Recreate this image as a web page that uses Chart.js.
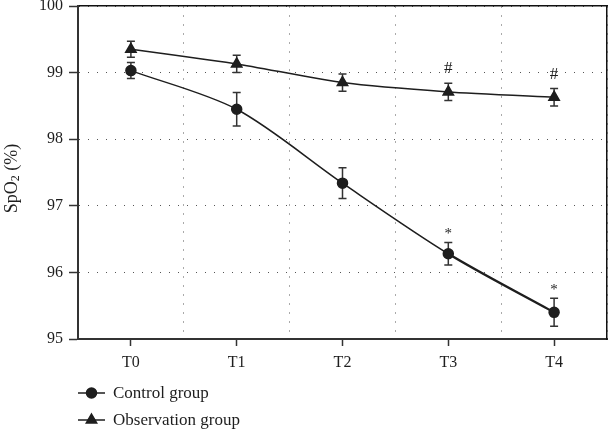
<!DOCTYPE html>
<html>
<head>
<meta charset="utf-8">
<script src="https://cdn.jsdelivr.net/npm/chart.js@4/dist/chart.umd.min.js"></script>
<style>
  html, body { margin: 0; padding: 0; background: #fff; }
  #wrap { width: 608px; height: 429px; }
</style>
</head>
<body>
<div id="wrap"><canvas id="spo2Chart"></canvas></div>
<script>
const timePoints = ['T0', 'T1', 'T2', 'T3', 'T4'];
const controlMean = [99.03, 98.45, 97.34, 96.28, 95.40];
const controlSD = [0.12, 0.25, 0.23, 0.17, 0.21];
const controlMarks = ['', '', '', '*', '*'];
const obsMean = [99.35, 99.13, 98.85, 98.71, 98.63];
const obsSD = [0.12, 0.13, 0.13, 0.13, 0.13];
const obsMarks = ['', '', '', '#', '#'];
const yTicks = [95, 96, 97, 98, 99, 100];

const serif = '"Liberation Serif", "Times New Roman", serif';
const ink = '#1e1e1e';
const dotGrid = '#555';

const errorBars = {
  id: 'errorBars',
  beforeDatasetsDraw(chart) {
    const ctx = chart.ctx;
    const y = chart.scales.y;
    const sds = [controlSD, obsSD];
    ctx.save();
    ctx.strokeStyle = '#333';
    ctx.lineWidth = 1.5;
    chart.data.datasets.forEach((ds, i) => {
      const meta = chart.getDatasetMeta(i);
      meta.data.forEach((pt, j) => {
        const top = y.getPixelForValue(ds.data[j] + sds[i][j]);
        const bot = y.getPixelForValue(ds.data[j] - sds[i][j]);
        ctx.beginPath();
        ctx.moveTo(pt.x, top); ctx.lineTo(pt.x, bot);
        ctx.moveTo(pt.x - 4, top); ctx.lineTo(pt.x + 4, top);
        ctx.moveTo(pt.x - 4, bot); ctx.lineTo(pt.x + 4, bot);
        ctx.stroke();
      });
    });
    ctx.restore();
  },
  afterDraw(chart) {
    const ctx = chart.ctx;
    const y = chart.scales.y;
    const area = chart.chartArea;
    const sets = [[controlMean, controlSD, controlMarks], [obsMean, obsSD, obsMarks]];
    ctx.save();
    ctx.fillStyle = ink;
    ctx.textAlign = 'center';
    ctx.textBaseline = 'bottom';
    sets.forEach(([m, sd, marks], i) => {
      const meta = chart.getDatasetMeta(i);
      marks.forEach((s, j) => {
        if (!s) return;
        const top = y.getPixelForValue(m[j] + sd[j]);
        if (s === '*') {
          ctx.font = '15px ' + serif;
          ctx.fillText(s, meta.data[j].x, top - 1);
        } else {
          ctx.font = '17px ' + serif;
          ctx.fillText(s, meta.data[j].x, top - 6);
        }
      });
    });

    // y title with a real subscript
    ctx.save();
    ctx.translate(12, (area.top + area.bottom) / 2 + 6);
    ctx.rotate(-Math.PI / 2);
    ctx.textBaseline = 'middle';
    ctx.textAlign = 'left';
    const parts = [['SpO', 18, 0], ['2', 12, 4], [' (%)', 18, 0]];
    let w = 0;
    parts.forEach(([t, sz]) => { ctx.font = sz + 'px ' + serif; w += ctx.measureText(t).width; });
    let cx = -w / 2;
    parts.forEach(([t, sz, dy]) => {
      ctx.font = sz + 'px ' + serif;
      ctx.fillText(t, cx, dy);
      cx += ctx.measureText(t).width;
    });
    ctx.restore();

    // legend, one item per row
    const items = [['Control group', 'circle', 5], ['Observation group', 'triangle', 6]];
    const x0 = area.left;
    ctx.font = '17px ' + serif;
    items.forEach(([label, style, r], k) => {
      const cy = area.bottom + 54 + k * 27;
      ctx.strokeStyle = ink;
      ctx.lineWidth = 1.5;
      ctx.beginPath();
      ctx.moveTo(x0, cy); ctx.lineTo(x0 + 27, cy);
      ctx.stroke();
      Chart.helpers.drawPoint(ctx, { pointStyle: style, radius: r, borderWidth: 1 }, x0 + 13.5, cy);
      ctx.fill();
      ctx.textAlign = 'left';
      ctx.textBaseline = 'middle';
      ctx.fillStyle = ink;
      ctx.fillText(label, x0 + 35, cy + 1);
    });
    ctx.restore();
  }
};

new Chart(document.getElementById('spo2Chart').getContext('2d'), {
  type: 'line',
  data: {
    labels: timePoints,
    datasets: [
      {
        label: 'Control group',
        data: controlMean,
        borderColor: ink,
        backgroundColor: ink,
        borderWidth: 1.5,
        pointStyle: 'circle',
        pointRadius: 5,
        tension: 0.3,
        segment: { borderWidth: c => c.p0DataIndex === 3 ? 2.5 : 1.5 }
      },
      {
        label: 'Observation group',
        data: obsMean,
        borderColor: ink,
        backgroundColor: ink,
        borderWidth: 1.5,
        pointStyle: 'triangle',
        pointRadius: 6,
        tension: 0.2
      }
    ]
  },
  options: {
    responsive: true,
    maintainAspectRatio: false,
    animation: false,
    layout: { padding: 0, autoPadding: false },
    plugins: {
      legend: { display: false },
      tooltip: { enabled: false }
    },
    scales: {
      x: {
        type: 'category',
        offset: true,
        grid: { offset: false, drawOnChartArea: false, tickLength: 7, tickColor: '#333', tickWidth: 1.5 },
        border: { color: '#333', width: 2 },
        ticks: { color: ink, font: { family: serif, size: 16 }, padding: 7 },
        afterFit: s => { s.height = 90; s.paddingRight = 0; s.paddingLeft = 0; }
      },
      x2: {
        type: 'category',
        labels: timePoints,
        position: 'top',
        offset: true,
        grid: { offset: true, color: dotGrid, lineWidth: 1, drawTicks: false },
        border: { color: '#111', width: 1.5, dash: [1, 8] },
        ticks: { display: false },
        afterFit: s => { s.height = 6; }
      },
      y: {
        min: 95,
        max: 100,
        afterBuildTicks: s => { s.ticks = yTicks.map(v => ({ value: v })); },
        grid: { color: dotGrid, lineWidth: 1, tickLength: 9, tickBorderDash: [], tickColor: '#333', tickWidth: 1.5 },
        border: { color: '#333', width: 2, dash: [1, 8] },
        ticks: { color: ink, font: { family: serif, size: 16 }, padding: 6 },
        afterFit: s => { s.width = 78; s.paddingTop = 0; s.paddingBottom = 0; }
      },
      y2: {
        position: 'right',
        min: 95,
        max: 100,
        grid: { drawOnChartArea: false, drawTicks: false },
        border: { color: '#111', width: 1.5 },
        ticks: { display: false },
        afterFit: s => { s.width = 1; s.paddingTop = 0; s.paddingBottom = 0; }
      }
    }
  },
  plugins: [errorBars]
});
</script>
</body>
</html>
